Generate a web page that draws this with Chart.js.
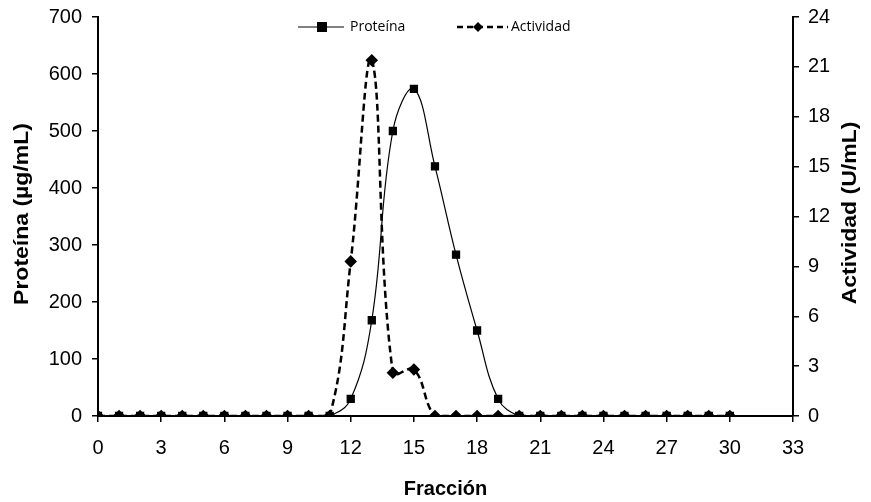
<!DOCTYPE html>
<html>
<head>
<meta charset="utf-8">
<script src="https://cdn.jsdelivr.net/npm/chart.js@4/dist/chart.umd.min.js"></script>
<style>
  html, body { margin: 0; padding: 0; background: #fff; }
  #wrap { width: 871px; height: 502px; }
</style>
</head>
<body>
<div id="wrap"><canvas id="grafico" width="871" height="502"></canvas></div>
<script>
// Fracciones recogidas en la columna
const fracciones = [0, 1, 2, 3, 4, 5, 6, 7, 8, 9, 10, 11, 12, 13, 14, 15, 16, 17, 18, 19, 20, 21, 22, 23, 24, 25, 26, 27, 28, 29, 30];
// Proteína (µg/mL)
const proteina = [0, 0, 0, 0, 0, 0, 0, 0, 0, 0, 0, 0, 30, 168, 500, 574, 438, 283, 150, 30, 0, 0, 0, 0, 0, 0, 0, 0, 0, 0, 0];
// Actividad (U/mL)
const actividad = [0, 0, 0, 0, 0, 0, 0, 0, 0, 0, 0, 0, 9.3, 21.4, 2.6, 2.8, 0, 0, 0, 0, 0, 0, 0, 0, 0, 0, 0, 0, 0, 0, 0];

const ticksX = [0, 3, 6, 9, 12, 15, 18, 21, 24, 27, 30, 33];
const ticksProteina = [0, 100, 200, 300, 400, 500, 600, 700];
const ticksActividad = [0, 3, 6, 9, 12, 15, 18, 21, 24];

const fuente = "'Liberation Sans', Arial, sans-serif";

// título vertical, leído de abajo hacia arriba (algo estirado como en el original)
function tituloVertical(ctx, texto, x, y) {
    ctx.save();
    ctx.translate(x, y);
    ctx.rotate(-Math.PI / 2);
    ctx.scale(1.15, 1);
    ctx.font = "bold 20px " + fuente;
    ctx.fillStyle = '#000';
    ctx.textAlign = 'center';
    ctx.textBaseline = 'middle';
    ctx.fillText(texto, 0, 0);
    ctx.restore();
}

// Leyenda dentro del área del gráfico y títulos de los ejes Y
const extrasPlugin = {
    id: 'extras',
    afterDraw(chart) {
        const ctx = chart.ctx;
        const y = 27;
        ctx.save();
        ctx.strokeStyle = '#000';
        ctx.fillStyle = '#000';
        // Proteína
        ctx.lineWidth = 1;
        ctx.beginPath();
        ctx.moveTo(298, y); ctx.lineTo(344, y);
        ctx.stroke();
        ctx.fillRect(317, y - 5, 10, 10);
        // Actividad
        ctx.lineWidth = 2.5;
        ctx.setLineDash([6, 4]);
        ctx.beginPath();
        ctx.moveTo(457, y); ctx.lineTo(508, y);
        ctx.stroke();
        ctx.setLineDash([]);
        ctx.beginPath();
        ctx.moveTo(478, y - 5); ctx.lineTo(483, y); ctx.lineTo(478, y + 5); ctx.lineTo(473, y);
        ctx.closePath();
        ctx.fill();
        ctx.font = "14px 'Open Sans', 'Noto Sans', sans-serif";
        ctx.textBaseline = 'middle';
        ctx.fillText('Proteína', 350, y);
        ctx.fillText('Actividad', 511, y);
        ctx.restore();

        tituloVertical(ctx, 'Proteína (µg/mL)', 22, 214);
        tituloVertical(ctx, 'Actividad (U/mL)', 850, 213);
    }
};

new Chart(document.getElementById('grafico'), {
    type: 'line',
    data: {
        datasets: [
            {
                label: 'Proteína',
                data: fracciones.map((f, i) => ({ x: f, y: proteina[i] })),
                yAxisID: 'yP',
                borderColor: '#000',
                backgroundColor: '#000',
                borderWidth: 1.2,
                pointStyle: 'rect',
                pointRadius: 5,
                tension: 0.4,
                order: 2
            },
            {
                label: 'Actividad',
                data: fracciones.map((f, i) => ({ x: f, y: actividad[i] })),
                yAxisID: 'yA',
                borderColor: '#000',
                backgroundColor: '#000',
                borderWidth: 2.5,
                borderDash: [7, 4],
                pointStyle: 'rectRot',
                pointRadius: 4.5,
                tension: 0.4,
                order: 1
            }
        ]
    },
    options: {
        responsive: false,
        animation: false,
        layout: { padding: { top: 16, left: 0, right: 0, bottom: 0 } },
        plugins: { legend: { display: false }, tooltip: { enabled: false } },
        scales: {
            x: {
                type: 'linear',
                min: 0, max: 33,
                afterBuildTicks: s => { s.ticks = ticksX.map(v => ({ value: v })); },
                afterFit: s => { s.height = 86; },
                grid: { drawOnChartArea: false, color: '#000', tickLength: 6, lineWidth: 1.5 },
                border: { color: '#000', width: 2 },
                ticks: { color: '#000', font: { family: fuente, size: 20 }, padding: 14, maxRotation: 0 },
                title: { display: true, text: 'Fracción', color: '#000', font: { family: fuente, size: 20, weight: 'bold' }, padding: { top: 0, bottom: 1 } }
            },
            yP: {
                position: 'left',
                min: 0, max: 700,
                afterBuildTicks: s => { s.ticks = ticksProteina.map(v => ({ value: v })); },
                afterFit: s => { s.width = 98; },
                grid: { drawOnChartArea: false, color: '#000', tickLength: 6, lineWidth: 1.5 },
                border: { color: '#000', width: 2 },
                ticks: { color: '#000', font: { family: fuente, size: 20, lineHeight: 0.7 }, padding: 10 },
                title: { display: false }
            },
            yA: {
                position: 'right',
                min: 0, max: 24,
                afterBuildTicks: s => { s.ticks = ticksActividad.map(v => ({ value: v })); },
                afterFit: s => { s.width = 78; },
                grid: { drawOnChartArea: false, color: '#000', tickLength: 6, lineWidth: 1.5 },
                border: { color: '#000', width: 2 },
                ticks: { color: '#000', font: { family: fuente, size: 20, lineHeight: 0.7 }, padding: 9 },
                title: { display: false }
            }
        }
    },
    plugins: [extrasPlugin]
});
</script>
</body>
</html>
